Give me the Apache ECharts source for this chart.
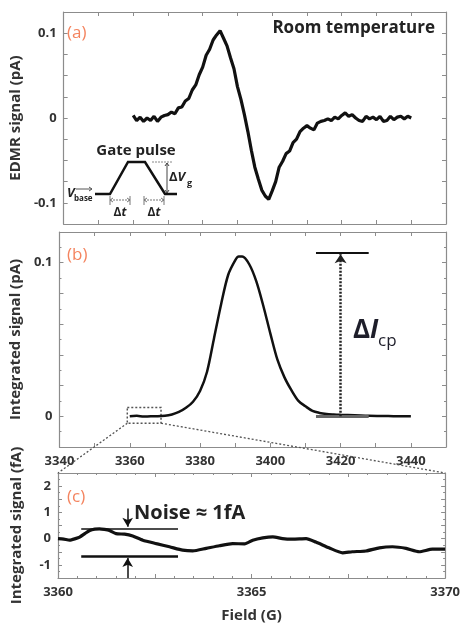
<!DOCTYPE html>
<html><head><meta charset="utf-8">
<script src="https://cdn.jsdelivr.net/npm/echarts@6/dist/echarts.min.js"></script>
<style>html,body{margin:0;padding:0;background:#fff}#c{width:463px;height:624px}</style>
</head><body><div id="c"></div>
<script>
// ---- Panel (a): EDMR signal (pA) vs Field (G)
const fieldA = [3360,3361,3362,3363,3364,3365,3366,3367,3368,3369,3370,3371,3372,3373,3374,3375,3376,3377,3378,3379,3380,3381,3382,3383,3384,3385,3386,3387,3388,3389,3390,3391,3392,3393,3394,3395,3396,3397,3398,3399,3400,3401,3402,3403,3404,3405,3406,3407,3408,3409,3410,3411,3412,3413,3414,3415,3416,3417,3418,3419,3420,3421,3422,3423,3424,3425,3426,3427,3428,3429,3430,3431,3432,3433,3434,3435,3436,3437,3438,3439,3440];
const edmrA = [0.003,-0.003,0.001,-0.004,0.000,-0.003,0.002,-0.004,0.001,0.003,0.004,0.007,0.005,0.012,0.013,0.020,0.023,0.033,0.039,0.051,0.060,0.074,0.081,0.092,0.098,0.103,0.094,0.085,0.071,0.058,0.037,0.022,0.004,-0.016,-0.038,-0.058,-0.072,-0.085,-0.092,-0.096,-0.086,-0.075,-0.058,-0.051,-0.042,-0.039,-0.029,-0.025,-0.016,-0.012,-0.009,-0.012,-0.014,-0.006,-0.004,-0.003,-0.001,-0.003,0.001,-0.001,0.003,0.006,0.002,0.004,0.000,-0.003,-0.004,0.002,-0.001,0.001,-0.002,0.002,-0.004,-0.003,0.002,-0.002,0.001,0.002,-0.001,0.002,0.000];
// ---- Panel (b): Integrated signal (pA)
const fieldB = [3360,3362,3364,3366,3368,3370,3372,3374,3376,3378,3380,3382,3384,3386,3388,3390,3391,3392,3394,3396,3398,3400,3402,3404,3406,3408,3410,3412,3414,3416,3418,3420,3424,3428,3432,3436,3440];
const intB = [0,0.0003,-0.0002,0,0,0.0003,0.0012,0.0028,0.0055,0.0095,0.0165,0.029,0.051,0.073,0.092,0.1015,0.104,0.104,0.099,0.088,0.072,0.054,0.037,0.0255,0.017,0.010,0.0065,0.0035,0.0022,0.0015,0.0012,0.0010,0.0007,0.0003,0.0002,0,0];
// ---- Panel (c): Integrated signal (fA), zoom 3360–3370 G
const fieldC = [3360,3360.15,3360.3,3360.45,3360.56,3360.7,3360.82,3360.95,3361.07,3361.2,3361.33,3361.5,3361.72,3361.93,3362.19,3362.54,3362.88,3363.22,3363.48,3363.83,3364.17,3364.51,3364.82,3365.03,3365.29,3365.55,3365.8,3366.06,3366.41,3366.66,3367.0,3367.35,3367.6,3367.95,3368.3,3368.64,3368.99,3369.33,3369.67,3370];
const intC = [0,-0.02,-0.06,0.0,0.06,0.2,0.31,0.36,0.37,0.35,0.31,0.19,0.17,0.1,-0.06,-0.19,-0.31,-0.44,-0.47,-0.37,-0.27,-0.19,-0.2,-0.06,0.03,0.07,0.0,-0.02,0.0,-0.13,-0.35,-0.54,-0.5,-0.47,-0.35,-0.31,-0.37,-0.5,-0.4,-0.4];

const xTicksAB = [3340,3360,3380,3400,3420,3440];
const xTicksC = [3360,3365,3370];

const pairs = (xs, ys) => xs.map((x, i) => [x, ys[i]]);
const frame = '#8c8c8c';
const labelStyle = {color:'#333', fontFamily:'Open Sans', fontWeight:'bold', fontSize:13};
const near = (a,b) => Math.abs(a-b) < 1e-9;

function xAx(grid, pos, min, max, interval, fmt, extra) {
  return Object.assign({
    type:'value', gridIndex:grid, position:pos, min, max, interval,
    axisLine:{show:true, onZero:false, lineStyle:{color:frame, width:1.2}},
    axisTick:{show:true, inside:true, length:4, lineStyle:{color:frame}},
    minorTick:{show:false},
    splitLine:{show:false},
    axisLabel: fmt ? Object.assign({show:true, formatter:fmt, margin:8, interval:0, showMinLabel:true, showMaxLabel:true}, labelStyle) : {show:false}
  }, extra||{});
}
function yAx(grid, pos, min, max, interval, fmt, extra) {
  return Object.assign({
    type:'value', gridIndex:grid, position:pos, min, max, interval,
    axisLine:{show:true, onZero:false, lineStyle:{color:frame, width:1.2}},
    axisTick:{show:true, inside:true, length:4, lineStyle:{color:frame}},
    splitLine:{show:false},
    axisLabel: fmt ? Object.assign({show:true, formatter:fmt, margin:7, showMinLabel:true, showMaxLabel:true}, labelStyle) : {show:false}
  }, extra||{});
}
const nameStyle = {color:'#333', fontFamily:'Open Sans', fontWeight:'bold', fontSize:15};

const fmtAB = v => xTicksAB.some(t => near(t,v)) ? String(v) : '';
const fmtC = v => xTicksC.some(t => near(t,v)) ? String(v) : '';
const fmtYA = v => near(v,0.1) ? '0.1' : near(v,0) ? '0' : near(v,-0.1) ? '-0.1' : '';
const fmtYB = v => near(v,0.1) ? '0.1' : near(v,0) ? '0' : '';
const fmtYC = v => near(v, Math.round(v)) ? String(Math.round(v)) : '';

const option = {
  animation:false,
  backgroundColor:'#fff',
  grid:[
    {left:58, top:12, width:388, height:212},
    {left:58, top:232, width:388, height:215},
    {left:58, top:473, width:388, height:108}
  ],
  xAxis:[
    xAx(0,'bottom',3340,3450,10,null),
    xAx(0,'top',3340,3450,10,null),
    xAx(1,'bottom',3340,3450,10,fmtAB),
    xAx(1,'top',3340,3450,10,null),
    xAx(2,'bottom',3360,3370,2.5,fmtC,{name:'Field (G)', nameLocation:'middle', nameGap:30, nameTextStyle:nameStyle, minorTick:{show:true, splitNumber:5, length:2, lineStyle:{color:frame}}}),
    xAx(2,'top',3360,3370,2.5,null,{minorTick:{show:true, splitNumber:5, length:2, lineStyle:{color:frame}}})
  ],
  yAxis:[
    yAx(0,'left',-0.125,0.125,0.025,fmtYA,{name:'EDMR signal (pA)', nameLocation:'middle', nameGap:34, nameTextStyle:nameStyle}),
    yAx(0,'right',-0.125,0.125,0.025,null),
    yAx(1,'left',-0.02,0.12,0.02,fmtYB,{name:'Integrated signal (pA)', nameLocation:'middle', nameGap:34, nameTextStyle:nameStyle, minorTick:{show:true, splitNumber:2, length:2, lineStyle:{color:frame}}}),
    yAx(1,'right',-0.02,0.12,0.02,null,{minorTick:{show:true, splitNumber:2, length:2, lineStyle:{color:frame}}}),
    yAx(2,'left',-1.5,2.5,0.5,fmtYC,{name:'Integrated signal (fA)', nameLocation:'middle', nameGap:34, nameTextStyle:nameStyle, minorTick:{show:true, splitNumber:2, length:2, lineStyle:{color:frame}}}),
    yAx(2,'right',-1.5,2.5,0.5,null,{minorTick:{show:true, splitNumber:2, length:2, lineStyle:{color:frame}}})
  ],
  series:[
    {type:'line', xAxisIndex:0, yAxisIndex:0, data:pairs(fieldA, edmrA), showSymbol:false, lineStyle:{color:'#111', width:3.2}},
    {type:'line', xAxisIndex:2, yAxisIndex:2, data:pairs(fieldB, intB), showSymbol:false, smooth:0.3, lineStyle:{color:'#111', width:2.5},
      markLine:{silent:true, symbol:'none', label:{show:false},
        data:[
          [{coord:[3413,0.1065], lineStyle:{color:'#111', width:2, type:'solid'}},{coord:[3428,0.1065]}],
          [{coord:[3413,0], lineStyle:{color:'#666', width:3, type:'solid'}},{coord:[3428,0]}],
          [{coord:[3420,0], symbol:'none', lineStyle:{color:'#222', width:2.5, type:[2,1.5]}},{coord:[3420,0.1055], symbol:'arrow', symbolSize:[9,9]}]
        ]},
      markArea:{silent:true, itemStyle:{color:'rgba(0,0,0,0)', borderColor:'#555', borderWidth:1.5, borderType:[2,2]},
        data:[[{coord:[3359.3,0.0058]},{coord:[3368.9,-0.0045]}]]}
    },
    {type:'line', xAxisIndex:4, yAxisIndex:4, data:pairs(fieldC, intC), showSymbol:false, smooth:0.2, lineStyle:{color:'#111', width:3.2},
      markLine:{silent:true, symbol:'none', label:{show:false},
        data:[
          [{coord:[3360.6,0.375], lineStyle:{color:'#111', width:1.5, type:'solid'}},{coord:[3363.1,0.375]}],
          [{coord:[3360.6,-0.67], lineStyle:{color:'#111', width:2.5, type:'solid'}},{coord:[3363.1,-0.67]}],
          [{coord:[3361.8,1.15], symbol:'none', lineStyle:{color:'#111', width:1.5, type:'solid'}},{coord:[3361.8,0.45], symbol:'arrow', symbolSize:[8,9]}],
          [{coord:[3361.8,-1.5], symbol:'none', lineStyle:{color:'#111', width:1.5, type:'solid'}},{coord:[3361.8,-0.74], symbol:'arrow', symbolSize:[8,9]}]
        ]}
    }
  ]
};

const chart = echarts.init(document.getElementById('c'), null, {renderer:'canvas'});
chart.setOption(option);

// connecting dotted lines from zoom rectangle in (b) to panel (c)
const rBL = chart.convertToPixel({xAxisIndex:2, yAxisIndex:2}, [3359.3,-0.0045]);
const rBR = chart.convertToPixel({xAxisIndex:2, yAxisIndex:2}, [3368.9,-0.0045]);
const cTL = chart.convertToPixel({xAxisIndex:4, yAxisIndex:4}, [3360,2.5]);
const cTR = chart.convertToPixel({xAxisIndex:4, yAxisIndex:4}, [3370,2.5]);

const orange = '#F4845F';
const txt = (x,y,text,size,opts) => ({type:'text', x, y, silent:true, z:10,
  style:Object.assign({text, fontSize:size, fontFamily:'Open Sans', fontWeight:'bold', fill:'#222', textAlign:'left', textVerticalAlign:'middle'}, opts||{})});
const ln = (x1,y1,x2,y2,st) => ({type:'line', silent:true, z:10, shape:{x1,y1,x2,y2}, style:Object.assign({stroke:'#222', lineWidth:1}, st||{})});
const pl = (pts,st) => ({type:'polyline', silent:true, z:10, shape:{points:pts}, style:Object.assign({stroke:'#222', lineWidth:1, fill:null}, st||{})});

const g = [
  ln(rBL[0],rBL[1],cTL[0],cTL[1],{stroke:'#555', lineWidth:1.3, lineDash:[2,2]}),
  ln(rBR[0],rBR[1],cTR[0],cTR[1],{stroke:'#555', lineWidth:1.3, lineDash:[2,2]}),
  txt(67,33,'(a)',17,{fill:orange, fontWeight:'normal'}),
  txt(67,255,'(b)',17,{fill:orange, fontWeight:'normal'}),
  txt(67,497,'(c)',17,{fill:orange, fontWeight:'normal'}),
  txt(435,28,'Room temperature',17,{textAlign:'right'}),
  // Gate pulse inset
  txt(136,151,'Gate pulse',15,{textAlign:'center'}),
  pl([[95,194],[110,194],[128,162],[145,162],[165,194],[177,194]],{stroke:'#111', lineWidth:2.5}),
  txt(67,193,'V',13,{fontStyle:'italic'}),
  txt(74,199,'base',8),
  ln(76,189,92,189,{stroke:'#555'}), pl([[89,187],[92,189],[89,191]],{stroke:'#555'}),
  ln(110,200,130,200,{stroke:'#777', lineDash:[2,1]}), ln(110,196,110,205,{stroke:'#777'}), ln(130,196,130,205,{stroke:'#777'}),
  pl([[113,198],[110,200],[113,202]],{stroke:'#777'}), pl([[127,198],[130,200],[127,202]],{stroke:'#777'}),
  ln(144,200,164,200,{stroke:'#777', lineDash:[2,1]}), ln(144,196,144,205,{stroke:'#777'}), ln(164,196,164,205,{stroke:'#777'}),
  pl([[147,198],[144,200],[147,202]],{stroke:'#777'}), pl([[161,198],[164,200],[161,202]],{stroke:'#777'}),
  {type:'text', x:120, y:213, silent:true, z:10, style:{text:'{a|Δ}{b|t}', textAlign:'center', textVerticalAlign:'middle', rich:{a:{fontSize:12, fontWeight:'bold', fontFamily:'Open Sans', fill:'#222'}, b:{fontSize:12, fontWeight:'bold', fontStyle:'italic', fontFamily:'Open Sans', fill:'#222'}}}},
  {type:'text', x:154, y:213, silent:true, z:10, style:{text:'{a|Δ}{b|t}', textAlign:'center', textVerticalAlign:'middle', rich:{a:{fontSize:12, fontWeight:'bold', fontFamily:'Open Sans', fill:'#222'}, b:{fontSize:12, fontWeight:'bold', fontStyle:'italic', fontFamily:'Open Sans', fill:'#222'}}}},
  ln(152,162,173,162,{stroke:'#888', lineDash:[2,1]}),
  ln(167,163,167,193,{stroke:'#444'}), pl([[165,166],[167,163],[169,166]],{stroke:'#444'}), pl([[165,190],[167,193],[169,190]],{stroke:'#444'}),
  {type:'text', x:169, y:177, silent:true, z:10, style:{text:'{a|Δ}{b|V}', textAlign:'left', textVerticalAlign:'middle', rich:{a:{fontSize:13, fontWeight:'bold', fontFamily:'Open Sans', fill:'#222'}, b:{fontSize:13, fontWeight:'bold', fontStyle:'italic', fontFamily:'Open Sans', fill:'#222'}}}},
  txt(187,183,'g',9),
  // ΔIcp
  {type:'text', x:353, y:331, silent:true, z:10, style:{text:'{a|Δ}{b|I}', textAlign:'left', textVerticalAlign:'middle', rich:{a:{fontSize:26, fontWeight:'bold', fontFamily:'Open Sans', fill:'#1e1e2a'}, b:{fontSize:26, fontWeight:'bold', fontStyle:'italic', fontFamily:'Open Sans', fill:'#1e1e2a'}}}},
  txt(378,341,'cp',17,{fill:'#1e1e2a', fontWeight:'normal'}),
  // Noise
  txt(134,513,'Noise ≈ 1fA',20)
];
chart.setOption({graphic:g});
</script>
</body></html>
